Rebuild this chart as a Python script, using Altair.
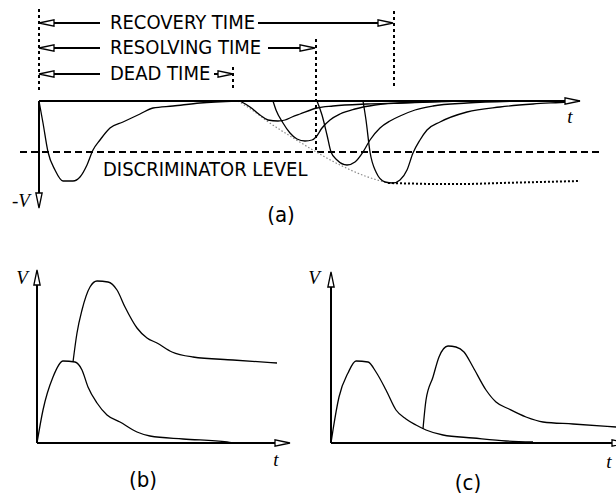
import altair as alt
import pandas as pd

# ---------------- data (diagram coordinates, y grows downward) ----------------
# Panel (a): five pulses on a negative-going baseline at y=101
a1_x = [39, 43, 48, 55, 63, 73, 80, 87, 93, 100, 110, 123, 140, 153, 173, 200, 237]
a1_y = [101, 123, 152, 170, 181, 181, 177, 165, 150, 140, 128, 122, 114, 108, 106, 103, 101]
a2_x = [240, 250, 260, 268, 278, 285, 292, 300, 317, 333, 367, 400, 460]
a2_y = [101, 107, 115, 120, 121, 120, 117, 114, 108, 106, 104, 103, 101]
a3_x = [273, 276, 283, 290, 297, 305, 312, 316, 322, 330, 340, 355, 375, 400, 450]
a3_y = [101, 110, 123, 133, 139, 141, 140, 137, 128, 120, 114, 109, 105, 103, 101]
a4_x = [317, 322, 327, 331, 337, 347, 355, 363, 370, 380, 390, 400, 415, 433, 467, 520]
a4_y = [101, 115, 135, 152, 160, 165, 162, 152, 140, 128, 121, 116, 110, 106, 103, 101]
a5_x = [363, 366, 370, 376, 385, 393, 400, 407, 413, 420, 427, 440, 467, 500, 533, 567, 580]
a5_y = [101, 120, 152, 172, 182, 183, 180, 170, 153, 140, 130, 122, 112, 107, 104, 102, 101]
env_x = [238, 255, 267, 290, 313, 340, 365, 388]
env_y = [101, 112, 121, 136, 150, 165, 176, 183]
tail_x = [388, 430, 470, 500, 540, 580]
tail_y = [183, 184, 184, 183, 182, 181]

# Panel (b)
b1_x = [37, 43, 53, 63, 75, 82, 88, 97, 107, 120, 137, 150, 183, 227, 233]
b1_y = [443, 410, 377, 361, 362, 370, 387, 403, 415, 422, 432, 436, 439, 442, 443]
b2_x = [73, 77, 82, 90, 97, 108, 117, 125, 137, 147, 157, 172, 193, 233, 277]
b2_y = [362, 333, 310, 287, 281, 282, 290, 307, 328, 338, 343, 352, 357, 360, 363]

# Panel (c)
c1_x = [331, 333, 339, 348, 356, 368, 376, 386, 396, 406, 416, 426, 443, 473, 506, 533]
c1_y = [443, 430, 397, 373, 361, 362, 372, 390, 410, 419, 425, 430, 435, 438, 441, 442]
c2_x = [423, 426, 433, 439, 448, 456, 464, 473, 486, 496, 509, 526, 543, 573, 616]
c2_y = [429, 400, 377, 357, 346, 347, 352, 367, 390, 402, 409, 417, 422, 424, 427]

# Solid straight segments: axes and label arrows
seg_x1 = [39, 39, 37, 37, 331, 331, 50, 258, 50, 268, 50, 214]
seg_x2 = [572, 39, 37, 282, 331, 612, 100, 380, 100, 302, 100, 220]
seg_y1 = [101, 101, 443, 443, 443, 443, 23, 23, 48, 48, 74, 74]
seg_y2 = [101, 200, 278, 443, 280, 443, 23, 23, 48, 48, 74, 74]

# Dotted guide lines
dot_x = [39, 233, 316, 394]
dot_y1 = [9, 67, 39, 11]
dot_y2 = [90, 89, 152, 89]

# Discriminator level
disc_x1, disc_x2, disc_y = [20], [602], [152]

# Arrowheads: tip position and direction (degrees, clockwise)
tip_x = [39, 39, 39, 393, 315, 233, 580, 39, 37, 290, 331, 627]
tip_y = [23, 48, 74, 23, 48, 74, 101, 208, 270, 443, 272, 443]
tip_dir = [180, 180, 180, 0, 0, 0, 0, 90, 270, 0, 270, 0]

# Texts
row_labels = ["RECOVERY TIME", "RESOLVING TIME", "DEAD TIME", "DISCRIMINATOR LEVEL"]
row_x = [110, 110, 110, 103]
row_y = [23, 48, 74, 170]
panel_labels = ["(a)", "(b)", "(c)"]
panel_x = [281, 143, 468]
panel_y = [215, 480, 483]
var_labels = ["-V", "t", "V", "t", "V", "t"]
var_x = [21, 570, 22, 276, 314, 609]
var_y = [201, 117, 278, 460, 278, 462]

# ---------------- build tables ----------------
curves = []
for name, xs, ys in [("a1", a1_x, a1_y), ("a2", a2_x, a2_y), ("a3", a3_x, a3_y),
                     ("a4", a4_x, a4_y), ("a5", a5_x, a5_y), ("b1", b1_x, b1_y),
                     ("b2", b2_x, b2_y), ("c1", c1_x, c1_y), ("c2", c2_x, c2_y)]:
    for i, (x, y) in enumerate(zip(xs, ys)):
        curves.append({"curve": name, "i": i, "x": x, "y": y})
curves = pd.DataFrame(curves)
env = pd.DataFrame({"x": env_x, "y": env_y, "i": range(len(env_x))})
tail = pd.DataFrame({"x": tail_x, "y": tail_y, "i": range(len(tail_x))})
segs = pd.DataFrame({"x": seg_x1, "x2": seg_x2, "y": seg_y1, "y2": seg_y2})
dots = pd.DataFrame({"x": dot_x, "y": dot_y1, "y2": dot_y2})
disc = pd.DataFrame({"x": disc_x1, "x2": disc_x2, "y": disc_y})

HALF = 7.5
heads = pd.DataFrame({"tx": tip_x, "ty": tip_y, "angle": tip_dir})
off = {0: (-HALF, 0), 180: (HALF, 0), 90: (0, -HALF), 270: (0, HALF)}
heads["x"] = [tx + off[a][0] for tx, a in zip(heads.tx, heads.angle)]
heads["y"] = [ty + off[a][1] for ty, a in zip(heads.ty, heads.angle)]

rows = pd.DataFrame({"label": row_labels, "x": row_x, "y": row_y})
panels = pd.DataFrame({"label": panel_labels, "x": panel_x, "y": panel_y})
vars_ = pd.DataFrame({"label": var_labels, "x": var_x, "y": var_y})

X = alt.X("x:Q", scale=alt.Scale(domain=[0, 616], nice=False, zero=False), axis=None)
Y = alt.Y("y:Q", scale=alt.Scale(domain=[0, 500], nice=False, zero=False, reverse=True), axis=None)

NARROW = "Liberation Sans Narrow, DejaVu Sans Condensed, Arial Narrow, sans-serif"

pulse_layer = alt.Chart(curves).mark_line(
    interpolate="monotone", color="black", strokeWidth=1.3
).encode(x=X, y=Y, detail="curve:N", order="i:Q")

env_layer = alt.Chart(env).mark_line(
    interpolate="monotone", color="#888888", strokeWidth=1.2, strokeDash=[1.5, 2]
).encode(x=X, y=Y, order="i:Q")

tail_layer = alt.Chart(tail).mark_line(
    color="black", strokeWidth=2, strokeDash=[2, 2]
).encode(x=X, y=Y, order="i:Q")

seg_layer = alt.Chart(segs).mark_rule(color="black", strokeWidth=2).encode(
    x=X, x2="x2:Q", y=Y, y2="y2:Q")

dot_layer = alt.Chart(dots).mark_rule(color="black", strokeWidth=2, strokeDash=[3, 3]).encode(
    x=X, y=Y, y2="y2:Q")

disc_layer = alt.Chart(disc).mark_rule(color="black", strokeWidth=2, strokeDash=[7, 4]).encode(
    x=X, x2="x2:Q", y=Y)

head_layer = alt.Chart(heads).mark_point(
    shape="M1,0L-1,-0.42L-1,0.42Z", size=225, filled=True, fill="white",
    stroke="black", strokeWidth=1.3, opacity=1
).encode(x=X, y=Y, angle=alt.Angle("angle:Q", scale=None))

row_layer = alt.Chart(rows).mark_text(
    font=NARROW, fontSize=20, align="left", baseline="middle", color="black"
).encode(x=X, y=Y, text="label:N")

panel_layer = alt.Chart(panels).mark_text(
    font=NARROW, fontSize=22, align="center", baseline="middle", color="black"
).encode(x=X, y=Y, text="label:N")

var_layer = alt.Chart(vars_).mark_text(
    font="Liberation Serif, DejaVu Serif, serif", fontSize=19, fontStyle="italic",
    align="center", baseline="middle", color="black"
).encode(x=X, y=Y, text="label:N")

chart = alt.layer(
    disc_layer, dot_layer, env_layer, tail_layer, pulse_layer, seg_layer,
    head_layer, row_layer, panel_layer, var_layer
).properties(
    width=616, height=500, autosize=alt.AutoSizeParams(type="none"), padding=0
).configure_view(stroke=None)

chart.save("out.html", embed_options={"renderer": "svg", "actions": False})
